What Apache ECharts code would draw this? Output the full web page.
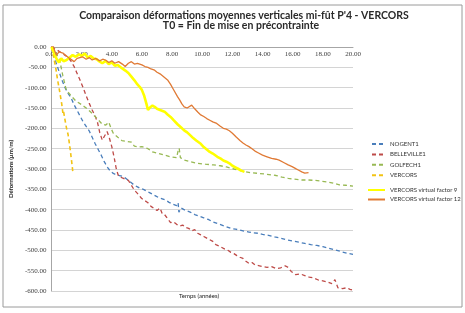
<!DOCTYPE html>
<html>
<head>
<meta charset="utf-8">
<script src="https://cdn.jsdelivr.net/npm/echarts@6/dist/echarts.min.js"></script>
<style>
html,body{margin:0;padding:0;background:#fff;}
#chart{width:465px;height:313px;}
</style>
</head>
<body>
<div id="chart"></div>
<script>
const titleText = "Comparaison déformations moyennes verticales mi-fût P'4 - VERCORS";
const subtitleText = "T0 = Fin de mise en précontrainte";
const xAxisName = "Temps (années)";
const yAxisName = "Déformations (µm/m)";
const seriesNames = ["NOGENT1", "BELLEVILLE1", "GOLFECH1", "VERCORS", "VERCORS virtual factor 9", "VERCORS virtual factor 12"];

const nogent1 = [[0,0],[0.15,-15],[0.3,-38],[0.5,-60],[0.7,-82],[0.9,-100],[1.1,-114],[1.3,-125],[1.5,-142],[1.7,-156],[1.9,-170],[2.1,-184],[2.3,-195],[2.5,-206],[2.7,-222],[2.9,-238],[3.1,-252],[3.3,-266],[3.5,-282],[3.7,-295],[3.9,-305],[4.1,-311],[4.3,-314],[4.5,-316],[4.7,-318],[4.9,-322],[5.1,-328],[5.3,-334],[5.5,-340],[5.7,-344],[5.9,-348],[6.1,-350],[6.3,-354],[6.5,-358],[6.7,-362],[6.9,-366],[7.1,-370],[7.4,-374],[7.6,-377],[7.8,-382],[8.0,-386],[8.3,-390],[8.4,-383],[8.45,-406],[8.6,-396],[8.9,-402],[9.2,-406],[9.5,-412],[9.8,-416],[10.1,-420],[10.4,-424],[10.7,-430],[11.0,-434],[11.3,-438],[11.6,-442],[11.9,-446],[12.2,-448],[12.5,-450],[12.8,-453],[13.1,-455],[13.4,-457],[13.7,-458],[14.0,-461],[14.4,-463],[14.8,-467],[15.2,-470],[15.6,-474],[16.0,-477],[16.4,-480],[16.8,-483],[17.2,-486],[17.6,-488],[18.0,-491],[18.4,-495],[18.8,-499],[19.2,-503],[19.6,-507],[20.0,-510]];

const belleville1 = [[0,0],[0.4,-8],[0.8,-18],[1.1,-26],[1.3,-35],[1.5,-48],[1.7,-65],[1.9,-82],[2.1,-100],[2.3,-120],[2.5,-138],[2.7,-155],[2.9,-170],[3.05,-185],[3.2,-210],[3.37,-229],[3.5,-220],[3.69,-208],[3.85,-225],[4.0,-245],[4.15,-270],[4.3,-300],[4.45,-318],[4.7,-322],[4.9,-325],[5.1,-328],[5.3,-340],[5.5,-352],[5.7,-360],[5.97,-372],[6.2,-378],[6.4,-383],[6.6,-392],[6.8,-397],[7.0,-402],[7.2,-396],[7.35,-410],[7.5,-412],[7.7,-422],[7.9,-432],[8.1,-430],[8.3,-436],[8.5,-440],[8.7,-438],[8.9,-444],[9.1,-446],[9.3,-452],[9.5,-449],[9.7,-458],[9.9,-462],[10.1,-466],[10.3,-470],[10.5,-474],[10.7,-478],[10.9,-486],[11.1,-489],[11.3,-493],[11.5,-497],[11.7,-500],[11.9,-505],[12.1,-508],[12.3,-513],[12.5,-517],[12.7,-520],[12.9,-527],[13.1,-532],[13.3,-530],[13.5,-536],[13.8,-538],[14.0,-540],[14.3,-542],[14.6,-540],[14.9,-545],[15.2,-543],[15.5,-538],[15.7,-542],[15.9,-552],[16.2,-560],[16.5,-558],[16.8,-562],[17.1,-566],[17.4,-568],[17.7,-573],[18.0,-575],[18.3,-578],[18.6,-582],[18.8,-572],[19.0,-592],[19.3,-594],[19.6,-592],[19.8,-596],[20.0,-598]];

const golfech1 = [[0,0],[0.3,-15],[0.54,-32],[0.75,-70],[0.98,-106],[1.3,-120],[1.6,-132],[2.0,-142],[2.3,-150],[2.6,-160],[3.0,-175],[3.37,-190],[3.6,-192],[3.8,-185],[3.95,-200],[4.1,-212],[4.4,-222],[4.67,-230],[5.0,-232],[5.3,-234],[5.5,-244],[5.8,-246],[6.0,-245],[6.4,-250],[6.7,-258],[7.05,-261],[7.4,-265],[7.9,-270],[8.3,-272],[8.4,-255],[8.47,-249],[8.55,-272],[8.8,-278],[9.2,-282],[9.66,-286],[10.2,-288],[10.75,-290],[11.2,-292],[11.6,-295],[12.1,-300],[12.7,-306],[13.2,-309],[13.8,-311],[14.3,-313],[14.9,-316],[15.3,-320],[15.7,-323],[16.1,-325],[16.6,-327],[17.0,-327],[17.5,-328],[17.9,-330],[18.35,-332],[18.8,-336],[19.1,-339],[19.5,-340],[20.0,-342]];

const vercors = [[0,0],[0.1,-15],[0.2,-35],[0.3,-55],[0.4,-80],[0.5,-100],[0.6,-122],[0.68,-140],[0.76,-163],[0.8,-158],[0.9,-180],[1.0,-200],[1.1,-215],[1.2,-240],[1.3,-270],[1.38,-295],[1.43,-312]];

const vercorsF9 = [[0,0],[0.1,-8],[0.2,-18],[0.35,-30],[0.5,-38],[0.65,-28],[0.8,-35],[1.0,-32],[1.2,-26],[1.4,-20],[1.6,-24],[1.84,-18],[2.0,-22],[2.2,-16],[2.4,-26],[2.6,-22],[2.8,-28],[3.0,-30],[3.2,-36],[3.37,-40],[3.6,-34],[3.8,-42],[4.0,-38],[4.2,-46],[4.4,-44],[4.67,-52],[4.9,-58],[5.1,-64],[5.3,-73],[5.5,-82],[5.7,-92],[5.85,-98],[6.0,-106],[6.15,-120],[6.3,-140],[6.4,-155],[6.55,-148],[6.7,-144],[6.84,-147],[7.0,-152],[7.2,-155],[7.5,-159],[7.7,-166],[7.9,-172],[8.1,-180],[8.36,-190],[8.6,-198],[8.8,-205],[9.0,-210],[9.23,-218],[9.4,-224],[9.6,-230],[9.9,-238],[10.1,-246],[10.3,-252],[10.5,-258],[10.7,-262],[11.0,-270],[11.2,-274],[11.4,-279],[11.6,-282],[11.8,-286],[12.0,-292],[12.2,-296],[12.4,-300],[12.6,-304],[12.8,-307]];

const vercorsF12 = [[0,0],[0.1,5],[0.2,-8],[0.33,-20],[0.5,-12],[0.76,-15],[1.0,-22],[1.2,-28],[1.5,-36],[1.7,-28],[2.06,-24],[2.3,-30],[2.5,-26],[2.7,-32],[2.93,-28],[3.2,-34],[3.4,-30],[3.58,-32],[3.8,-38],[4.0,-34],[4.2,-40],[4.45,-36],[4.7,-42],[4.89,-48],[5.1,-40],[5.3,-36],[5.5,-42],[5.7,-40],[6.0,-44],[6.2,-48],[6.4,-50],[6.6,-54],[6.84,-57],[7.0,-62],[7.2,-66],[7.4,-72],[7.7,-81],[7.9,-92],[8.1,-105],[8.36,-122],[8.5,-130],[8.65,-140],[8.8,-147],[9.0,-150],[9.3,-143],[9.5,-152],[9.7,-160],[9.9,-167],[10.1,-171],[10.3,-176],[10.5,-180],[10.7,-184],[10.96,-188],[11.2,-195],[11.4,-200],[11.6,-202],[11.8,-206],[12.0,-212],[12.27,-222],[12.5,-230],[12.7,-236],[12.9,-241],[13.1,-245],[13.3,-250],[13.5,-256],[13.7,-260],[14.0,-266],[14.3,-270],[14.6,-274],[14.9,-276],[15.1,-278],[15.4,-284],[15.7,-290],[15.96,-294],[16.2,-299],[16.4,-303],[16.6,-307],[16.8,-310],[17.05,-309]];

const seriesData = [nogent1, belleville1, golfech1, vercors, vercorsF9, vercorsF12];
const colors = ["#4A7EBB", "#BE4B48", "#98B954", "#F2C314", "#FFFF00", "#E07A35"];
const widths = [1.3, 1.3, 1.3, 1.6, 2.6, 1.3];
const dashed = [true, true, true, true, false, false];

const chart = echarts.init(document.getElementById('chart'), null, {renderer: 'canvas'});
const labelFont = "'Liberation Serif', serif";
const sansFont = "Lato, 'Liberation Sans', sans-serif";

const option = {
  animation: false,
  backgroundColor: '#fff',
  grid: {left: 45, right: 112, top: 47, bottom: 22, containLabel: false},
  legend: [
    {data: seriesNames.slice(0,4), orient: 'vertical', left: 371, top: 141, padding: 0, itemWidth: 13, itemHeight: 7, itemGap: 4.4,
     itemStyle: {opacity: 0},
     textStyle: {fontFamily: sansFont, fontSize: 6, color: '#333'}},
    {data: seriesNames.slice(4), orient: 'vertical', left: 367, top: 187, padding: 0, itemWidth: 17, itemHeight: 7, itemGap: 3.5,
     itemStyle: {opacity: 0},
     textStyle: {fontFamily: sansFont, fontSize: 6, color: '#333'}}
  ],
  xAxis: {
    type: 'value', min: 0, max: 20, interval: 2, position: 'top',
    axisLine: {onZero: false, lineStyle: {color: '#a6a6a6', width: 1}},
    axisTick: {show: false},
    splitLine: {show: false},
    axisLabel: {inside: true, formatter: v => v.toFixed(2), fontFamily: labelFont, fontSize: 7, color: '#404040', margin: 4}
  },
  yAxis: {
    type: 'value', min: -600, max: 0, interval: 50,
    name: yAxisName, nameLocation: 'middle', nameGap: 27, nameRotate: 90,
    nameTextStyle: {fontFamily: sansFont, fontSize: 6, fontWeight: 'bold', color: '#222'},
    axisLine: {show: true, lineStyle: {color: '#a6a6a6'}},
    axisTick: {show: false},
    splitLine: {lineStyle: {color: '#d4d4d4', width: 1}},
    axisLabel: {formatter: v => v.toFixed(2), fontFamily: labelFont, fontSize: 7, color: '#404040', margin: 5}
  },
  graphic: [
    {type: 'rect', shape: {x: 3, y: 5, width: 459, height: 302}, style: {fill: 'none', stroke: '#9a9a9a', lineWidth: 1}, z: 100},
    {type: 'text', x: 244, y: 16, style: {text: titleText, fontFamily: sansFont, fontSize: 10.5, fontWeight: 'bold', fill: '#2a2a2a', textAlign: 'center', textVerticalAlign: 'middle'}},
    {type: 'text', x: 241, y: 26, style: {text: subtitleText, fontFamily: sansFont, fontSize: 10.5, fontWeight: 'bold', fill: '#2a2a2a', textAlign: 'center', textVerticalAlign: 'middle'}},
    {type: 'text', x: 199, y: 296, style: {text: xAxisName, fontFamily: sansFont, fontSize: 6, fill: '#222', textAlign: 'center', textVerticalAlign: 'middle'}}
  ],
  series: seriesData.map((d, i) => ({
    name: seriesNames[i], type: 'line', data: d, symbol: 'none', smooth: false,
    lineStyle: {color: colors[i], width: widths[i], type: dashed[i] ? [4, 3] : 'solid'},
    itemStyle: {color: colors[i]}
  }))
};
chart.setOption(option);
</script>
</body>
</html>
